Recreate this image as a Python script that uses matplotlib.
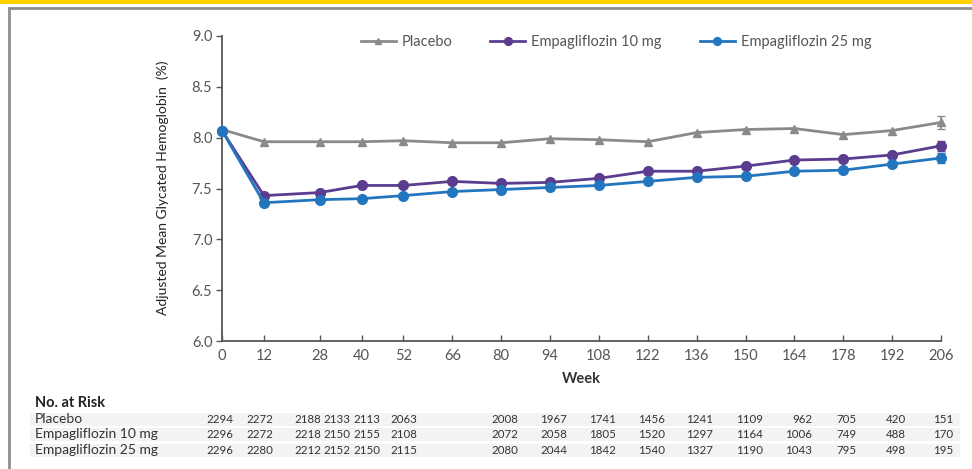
import matplotlib
matplotlib.use("Agg")
import matplotlib.pyplot as plt
from matplotlib.lines import Line2D
from matplotlib.patches import Rectangle

plt.rcParams['font.family'] = ['Lato', 'DejaVu Sans']

# data
weeks = [0, 12, 28, 40, 52, 66, 80, 94, 108, 122, 136, 150, 164, 178, 192, 206]
placebo = [8.08, 7.96, 7.96, 7.96, 7.97, 7.95, 7.95, 7.99, 7.98, 7.96, 8.05, 8.08, 8.09, 8.03, 8.07, 8.15]
empa10 = [8.07, 7.43, 7.46, 7.53, 7.53, 7.57, 7.55, 7.56, 7.60, 7.67, 7.67, 7.72, 7.78, 7.79, 7.83, 7.92]
empa25 = [8.07, 7.36, 7.39, 7.40, 7.43, 7.47, 7.49, 7.51, 7.53, 7.57, 7.61, 7.62, 7.67, 7.68, 7.74, 7.80]
err_last = [0.06, 0.05, 0.05]  # placebo, 10 mg, 25 mg at week 206

risk_labels = ['Placebo', 'Empagliflozin 10 mg', 'Empagliflozin 25 mg']
risk_placebo = [2294, 2272, 2188, 2133, 2113, 2063, 2008, 1967, 1741, 1456, 1241, 1109, 962, 705, 420, 151]
risk_empa10 = [2296, 2272, 2218, 2150, 2155, 2108, 2072, 2058, 1805, 1520, 1297, 1164, 1006, 749, 488, 170]
risk_empa25 = [2296, 2280, 2212, 2152, 2150, 2115, 2080, 2044, 1842, 1540, 1327, 1190, 1043, 795, 498, 195]

W, H = 972, 469
fig = plt.figure(figsize=(W / 100, H / 100), dpi=100)

# page frame: yellow strip on top, grey border
fig.add_artist(Rectangle((0, 1 - 4 / H), 1, 4 / H, transform=fig.transFigure,
                         facecolor='#ffd200', edgecolor='none'))
fig.add_artist(Line2D([8.5 / W, 1], [1 - 8.5 / H, 1 - 8.5 / H], transform=fig.transFigure,
                      color='#8f8f8f', lw=2))
fig.add_artist(Line2D([8.5 / W, 8.5 / W], [0, 1 - 8.5 / H], transform=fig.transFigure,
                      color='#8f8f8f', lw=2))

ax = fig.add_axes([222 / W, 1 - 341 / H, (941 - 222) / W, (341 - 36) / H])

c_pl, c_10, c_25 = '#8a8a8a', '#5b3c8f', '#2376be'
ax.plot(weeks, placebo, color=c_pl, lw=2, marker='^', ms=6, clip_on=False, zorder=3,
        label='Placebo')
ax.plot(weeks, empa10, color=c_10, lw=2, marker='o', ms=7, clip_on=False, zorder=4,
        label='Empagliflozin 10 mg')
ax.plot(weeks, empa25, color=c_25, lw=2, marker='o', ms=7, clip_on=False, zorder=5,
        label='Empagliflozin 25 mg')
for vals, e, c in zip([placebo, empa10, empa25], err_last, [c_pl, c_10, c_25]):
    ax.errorbar(weeks[-1], vals[-1], yerr=e, color=c, capsize=3, lw=1.2, clip_on=False, zorder=6)

ax.set_xlim(0, 206)
ax.set_ylim(6.0, 9.0)
ax.set_xticks(weeks)
ax.set_yticks([6.0, 6.5, 7.0, 7.5, 8.0, 8.5, 9.0])
ax.set_yticklabels(['6.0', '6.5', '7.0', '7.5', '8.0', '8.5', '9.0'])
ax.spines['top'].set_visible(False)
ax.spines['right'].set_visible(False)
for s in ['left', 'bottom']:
    ax.spines[s].set_color('#555555')
    ax.spines[s].set_linewidth(1.3)
ax.tick_params(axis='x', direction='in', length=4, width=1, colors='#555555',
               labelsize=10.5, labelcolor='#555555', pad=6)
ax.tick_params(axis='y', direction='out', length=4, width=1, colors='#555555',
               labelsize=10.5, labelcolor='#555555', pad=3)

ax.set_xlabel('Week', fontsize=10.5, fontweight='bold', color='#333333', labelpad=6)
fig.text(163 / W, 1 - 188 / H, 'Adjusted Mean Glycated Hemoglobin  (%)', rotation=90,
         ha='center', va='center', fontsize=10, color='#222222')

ax.legend(loc='center', bbox_to_anchor=(0.548, 0.98), ncol=3, frameon=False,
          fontsize=10.5, handlelength=2.4, handletextpad=0.4, columnspacing=2.6,
          markerscale=0.8, labelcolor='#555555')

# number at risk table
fig.text(35 / W, 1 - 403 / H, 'No. at Risk', fontsize=10.5, fontweight='bold',
         color='#222222', va='center')
col_right = [233, 273, 321, 350, 380, 417, 518, 567, 616, 665, 713, 763, 812, 856, 906, 953]
row_y = [419, 434, 450]
for lab, vals, y in zip(risk_labels, [risk_placebo, risk_empa10, risk_empa25], row_y):
    fig.add_artist(Rectangle((30 / W, 1 - (y + 7) / H), (960 - 30) / W, 13.5 / H,
                             transform=fig.transFigure, facecolor='#f3f3f3',
                             edgecolor='none', zorder=0))
    fig.text(35 / W, 1 - y / H, lab, fontsize=10, color='#333333', va='center')
    for xr, v in zip(col_right, vals):
        fig.text(xr / W, 1 - y / H, str(v), fontsize=8.3, color='#333333',
                 va='center', ha='right')

fig.savefig('out.png', dpi=100)
